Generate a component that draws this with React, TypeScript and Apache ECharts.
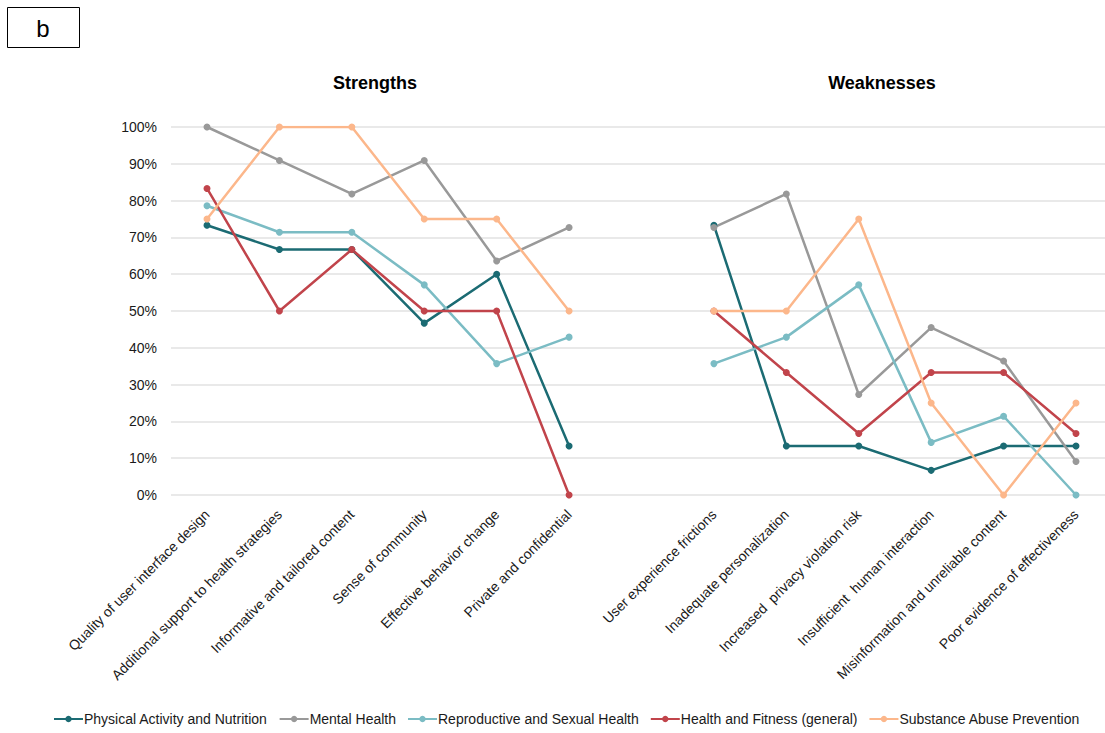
import React, { useEffect, useRef } from "react";
import * as echarts from "echarts";

// Categories: six strengths, one empty spacer slot, six weaknesses
const strengths = [
  "Quality of user interface design",
  "Additional support to health strategies",
  "Informative and tailored content",
  "Sense of community",
  "Effective behavior change",
  "Private and confidential",
];
const weaknesses = [
  "User experience frictions",
  "Inadequate personalization",
  "Increased  privacy violation risk",
  "Insufficient  human interaction",
  "Misinformation and unreliable content",
  "Poor evidence of effectiveness",
];
const categories = [...strengths, "", ...weaknesses];

const yTicks = [0, 10, 20, 30, 40, 50, 60, 70, 80, 90, 100];

// Percent of apps per domain (strengths | weaknesses)
const physicalS = [73.3, 66.7, 66.7, 46.7, 60.0, 13.3];
const physicalW = [73.3, 13.3, 13.3, 6.7, 13.3, 13.3];
const mentalS = [100, 90.9, 81.8, 90.9, 63.6, 72.7];
const mentalW = [72.7, 81.8, 27.3, 45.5, 36.4, 9.1];
const reproS = [78.6, 71.4, 71.4, 57.1, 35.7, 42.9];
const reproW = [35.7, 42.9, 57.1, 14.3, 21.4, 0];
const fitnessS = [83.3, 50.0, 66.7, 50.0, 50.0, 0];
const fitnessW = [50.0, 33.3, 16.7, 33.3, 33.3, 16.7];
const substanceS = [75, 100, 100, 75, 75, 50];
const substanceW = [50, 50, 75, 25, 0, 25];

const seriesDefs = [
  { name: "Physical Activity and Nutrition", s: physicalS, w: physicalW, color: "#1b6b73" },
  { name: "Mental Health", s: mentalS, w: mentalW, color: "#999999" },
  { name: "Reproductive and Sexual Health", s: reproS, w: reproW, color: "#7bbcc4" },
  { name: "Health and Fitness (general)", s: fitnessS, w: fitnessW, color: "#c1444b" },
  { name: "Substance Abuse Prevention", s: substanceS, w: substanceW, color: "#fcb78b" },
];

const FONT = "Liberation Sans, Arial, sans-serif";

export default function App() {
  const ref = useRef<HTMLDivElement>(null);

  useEffect(() => {
    if (!ref.current) return;
    const chart = echarts.init(ref.current, undefined, { renderer: "svg" });

    const series = seriesDefs.map((d) => ({
      name: d.name,
      type: "line" as const,
      xAxisIndex: 0,
      yAxisIndex: 0,
      data: [...d.s, null, ...d.w],
      connectNulls: false,
      symbol: "circle",
      symbolSize: 7,
      lineStyle: { color: d.color, width: 2.5 },
      itemStyle: { color: d.color },
      color: d.color,
      z: 3,
    }));

    const titleStyle = {
      fontSize: 18,
      fontWeight: "bold",
      fontFamily: FONT,
      fill: "#000",
      textAlign: "center",
      textVerticalAlign: "middle",
    };

    chart.setOption({
      animation: false,
      textStyle: { fontFamily: FONT },
      graphic: [
        {
          type: "rect",
          shape: { x: 7.5, y: 7.5, width: 72, height: 40 },
          style: { fill: "#fff", stroke: "#000", lineWidth: 1 },
        },
        {
          type: "text",
          x: 43,
          y: 28,
          style: {
            text: "b",
            fontSize: 24,
            fontFamily: FONT,
            fill: "#000",
            textAlign: "center",
            textVerticalAlign: "middle",
          },
        },
        { type: "text", x: 375, y: 83, style: { ...titleStyle, text: "Strengths" } },
        { type: "text", x: 882, y: 83, style: { ...titleStyle, text: "Weaknesses" } },
      ],
      legend: {
        bottom: 2,
        left: 48,
        itemWidth: 29,
        itemHeight: 8,
        itemGap: 11,
        textStyle: { fontSize: 14, color: "#1a1a1a", fontFamily: FONT, padding: [0, 0, 0, -4] },
        data: seriesDefs.map((d) => d.name),
      },
      grid: [
        // data grid: first and last category sit on the plot edges
        { left: 207, top: 127, width: 869, height: 368, containLabel: false },
        // background grid carrying the percentage ticks and horizontal rules
        { left: 171, top: 127, right: 0, height: 368, containLabel: false },
      ],
      xAxis: [
        {
          type: "category",
          gridIndex: 0,
          data: categories,
          boundaryGap: false,
          axisLine: { show: false },
          axisTick: { show: false },
          splitLine: { show: false },
          axisLabel: {
            interval: 0,
            rotate: 45,
            margin: 17,
            fontSize: 14,
            color: "#1a1a1a",
            fontFamily: FONT,
          },
        },
        {
          type: "value",
          gridIndex: 1,
          show: false,
          min: 0,
          max: 1,
        },
      ],
      yAxis: [
        {
          type: "value",
          gridIndex: 0,
          min: 0,
          max: 100,
          interval: 10,
          show: false,
          splitLine: { show: false },
        },
        {
          type: "value",
          gridIndex: 1,
          min: 0,
          max: 100,
          interval: 10,
          axisLine: { show: false },
          axisTick: { show: false },
          splitLine: { lineStyle: { color: "#e2e2e2", width: 1.5 } },
          axisLabel: {
            margin: 14,
            fontSize: 14,
            color: "#1a1a1a",
            fontFamily: FONT,
            formatter: (v: number) => (yTicks.includes(v) ? `${v}%` : ""),
          },
        },
      ],
      series,
    });

    return () => chart.dispose();
  }, []);

  return (
    <div
      ref={ref}
      style={{ position: "absolute", left: 0, top: 0, width: 1105, height: 733, background: "#fff" }}
    />
  );
}
